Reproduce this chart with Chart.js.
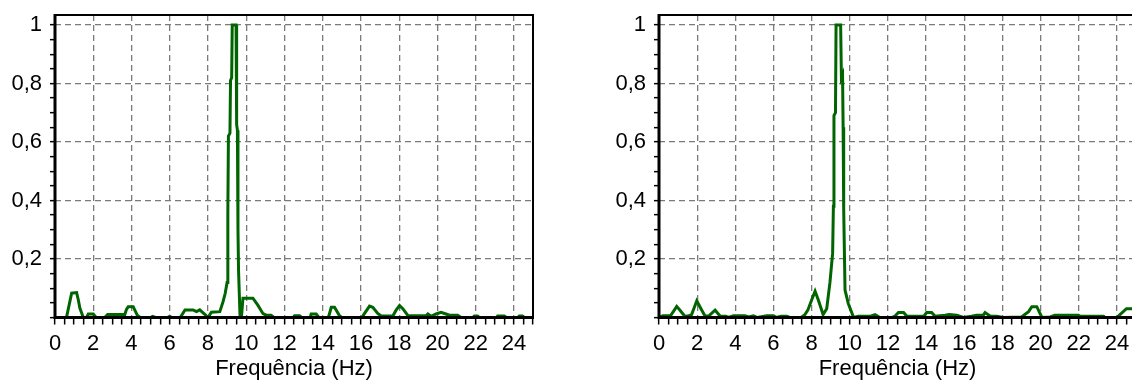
<!DOCTYPE html>
<html>
<head>
<meta charset="utf-8">
<script src="https://cdn.jsdelivr.net/npm/chart.js@4/dist/chart.umd.min.js"></script>
<style>
  html, body { margin: 0; padding: 0; background: #fff; width: 1132px; height: 380px; overflow: hidden; }
  canvas { position: absolute; top: 0; }
  #c1 { left: 0; }
  #c2 { left: 604px; }
</style>
</head>
<body>
<canvas id="c1" width="560" height="380"></canvas>
<canvas id="c2" width="540" height="380"></canvas>
<script>
// Normalised amplitude spectra (frequency in Hz, amplitude 0..1)
const freqA = [0, 0.6, 0.87, 1.13, 1.22, 1.3, 1.48, 1.65, 1.74, 2.0, 2.15, 2.6, 2.75, 3.65, 3.74, 3.83, 4.09, 4.3, 4.45, 5.0,
  5.1, 5.25, 5.9, 6.0, 6.1, 6.55, 6.8, 7.22, 7.4, 7.57, 7.85, 8.0, 8.18, 8.62, 8.79, 8.9, 9.0, 9.04, 9.07, 9.15,
  9.18, 9.24, 9.27, 9.47, 9.5, 9.54, 9.57, 9.6, 9.68, 9.75, 9.83, 10.35, 10.6, 10.88, 11.05, 11.3, 11.45, 12.45, 12.53, 12.79,
  12.9, 13.35, 13.4, 13.66, 13.8, 14.3, 14.45, 14.62, 14.88, 15.0, 16.05, 16.19, 16.45, 16.62, 16.88, 17.06, 17.67, 17.84, 18.02, 18.19,
  18.45, 18.54, 19.41, 19.5, 19.67, 19.93, 20.19, 20.45, 20.63, 21.06, 21.24, 21.85, 21.93, 22.1, 22.2, 23.1, 23.15, 23.5, 23.6, 24.2,
  24.28, 24.45, 24.55, 25];
const ampA = [0, 0, 0.083, 0.085, 0.06, 0.032, 0, 0, 0.012, 0.012, 0, 0, 0.01, 0.01, 0.028, 0.037, 0.037, 0.008, 0, 0,
  0.004, 0, 0, 0.004, 0, 0, 0.026, 0.026, 0.02, 0.026, 0.01, 0, 0.018, 0.02, 0.054, 0.082, 0.12, 0.36, 0.62, 0.63,
  0.81, 0.82, 1.0, 1.0, 0.66, 0.64, 0.3, 0.16, 0, 0, 0.066, 0.066, 0.043, 0.013, 0.008, 0.008, 0, 0, 0.006, 0.006,
  0, 0, 0.012, 0.012, 0, 0, 0.035, 0.035, 0.006, 0, 0, 0.014, 0.039, 0.035, 0.014, 0.005, 0.005, 0.025, 0.041, 0.03,
  0.007, 0.006, 0.006, 0.012, 0.004, 0.012, 0.018, 0.012, 0.008, 0.008, 0, 0, 0.005, 0.005, 0, 0, 0.005, 0.005, 0, 0,
  0.005, 0.005, 0, 0];

const freqB = [0, 0.2, 0.6, 0.75, 0.93, 1.1, 1.36, 1.5, 1.71, 1.98, 2.2, 2.41, 2.6, 2.94, 3.2, 3.5, 3.65, 3.9, 4.2, 4.5,
  4.7, 4.95, 5.15, 5.65, 6.0, 6.15, 6.4, 6.7, 6.85, 7.45, 7.65, 7.8, 8.0, 8.18, 8.35, 8.6, 8.79, 8.96, 9.1, 9.14,
  9.17, 9.25, 9.28, 9.52, 9.56, 9.62, 9.65, 9.68, 9.75, 9.92, 10.2, 10.45, 11.06, 11.32, 11.58, 12.2, 12.37, 12.55, 12.82, 12.98,
  13.87, 14.03, 14.29, 14.47, 15.0, 15.2, 15.6, 15.96, 16.38, 16.64, 17.0, 17.09, 17.35, 17.7, 18.04, 19.0, 19.37, 19.54, 19.8, 20.07,
  20.5, 20.75, 21.98, 22.07, 23.3, 23.38, 23.99, 24.16, 24.5, 25];
const ampB = [0, 0.006, 0.006, 0.02, 0.038, 0.025, 0.004, 0.005, 0.01, 0.057, 0.03, 0.005, 0.005, 0.025, 0.005, 0.004, 0, 0.006, 0.006, 0.006,
  0.002, 0.006, 0, 0.006, 0.006, 0, 0.004, 0.004, 0, 0, 0.01, 0.025, 0.06, 0.09, 0.06, 0.01, 0.03, 0.12, 0.22, 0.38,
  0.69, 0.7, 1.0, 1.0, 0.82, 0.83, 0.65, 0.37, 0.094, 0.048, 0, 0.004, 0.004, 0.01, 0, 0, 0.005, 0.017, 0.017, 0.005,
  0.004, 0.017, 0.017, 0.004, 0.008, 0.01, 0.008, 0, 0.004, 0.008, 0.008, 0.017, 0.005, 0.004, 0, 0.002, 0.02, 0.037, 0.037, 0,
  0.002, 0.008, 0.008, 0.004, 0.004, 0, 0, 0.01, 0.03, 0.03];

// Axis labelling
const xTickLabels = [0, 2, 4, 6, 8, 10, 12, 14, 16, 18, 20, 22, 24];
const yTickLabels = [0.2, 0.4, 0.6, 0.8, 1];
const xTitle = 'Frequência (Hz)';

const FONT = '"Liberation Sans", Arial, sans-serif';
const GRID = '#7a7a7a';
const LINE = '#006400';

const near = (v, list) => list.some(t => Math.abs(t - v) < 1e-6);

// Black frame around the plot area, drawn over the curve
const framePlugin = {
  id: 'frame',
  afterDatasetsDraw(chart) {
    const { ctx, chartArea: a } = chart;
    ctx.save();
    ctx.strokeStyle = '#000';
    ctx.lineWidth = 2;
    ctx.beginPath();
    ctx.moveTo(a.left, a.top);
    ctx.lineTo(a.right, a.top);
    ctx.lineTo(a.right, a.bottom);
    ctx.stroke();
    ctx.lineWidth = 3;
    ctx.beginPath();
    ctx.moveTo(a.left, a.top - 1);
    ctx.lineTo(a.left, a.bottom);
    ctx.lineTo(a.right + 1, a.bottom);
    ctx.stroke();
    ctx.restore();
  }
};

function makeChart(id, freq, amp, padRight) {
  return new Chart(document.getElementById(id), {
    type: 'line',
    data: {
      datasets: [{
        data: freq.map((f, i) => ({ x: f, y: amp[i] })),
        borderColor: LINE,
        borderWidth: 3,
        pointRadius: 0,
        tension: 0,
        fill: false
      }]
    },
    options: {
      responsive: false,
      animation: false,
      layout: { padding: { top: 15, right: padRight, left: 0, bottom: 0 } },
      plugins: { legend: { display: false }, tooltip: { enabled: false } },
      scales: {
        x: {
          type: 'linear',
          min: 0, max: 25,
          afterFit(s) { s.height = 62.5; s.paddingLeft = 0; s.paddingRight = 0; },
          ticks: {
            stepSize: 0.5,
            autoSkip: false,
            maxRotation: 0,
            padding: 8,
            color: '#000',
            font: { family: FONT, size: 22, lineHeight: 1 },
            callback: v => near(v, xTickLabels) ? String(v) : ''
          },
          grid: {
            color: c => (c.tick && c.tick.value > 0 && c.tick.value < 25 && near(c.tick.value, xTickLabels)) ? GRID : 'rgba(0,0,0,0)',
            lineWidth: 1.3,
            tickLength: 7,
            tickColor: '#000',
            tickWidth: 1.5
          },
          border: { display: false, dash: [6, 4] },
          title: {
            display: true,
            text: xTitle,
            color: '#000',
            padding: 0,
            font: { family: FONT, size: 22, lineHeight: 1 }
          }
        },
        y: {
          min: 0, max: 1.034,
          afterFit(s) { s.width = 55; s.paddingTop = 0; s.paddingBottom = 0; },
          ticks: {
            stepSize: 0.05,
            includeBounds: false,
            autoSkip: false,
            padding: 8,
            color: '#000',
            font: { family: FONT, size: 22, lineHeight: 1 },
            callback: v => near(v, yTickLabels) ? String(Math.round(v * 10) / 10).replace('.', ',') : ''
          },
          grid: {
            color: c => (c.tick && c.tick.value > 0 && near(c.tick.value, yTickLabels)) ? GRID : 'rgba(0,0,0,0)',
            lineWidth: 1.3,
            tickLength: 5,
            tickColor: '#000',
            tickWidth: 1.5
          },
          border: { display: false, dash: [6, 4] }
        }
      }
    },
    plugins: [framePlugin]
  });
}

makeChart('c1', freqA, ampA, 27);
makeChart('c2', freqB, ampB, 8);
</script>
</body>
</html>
